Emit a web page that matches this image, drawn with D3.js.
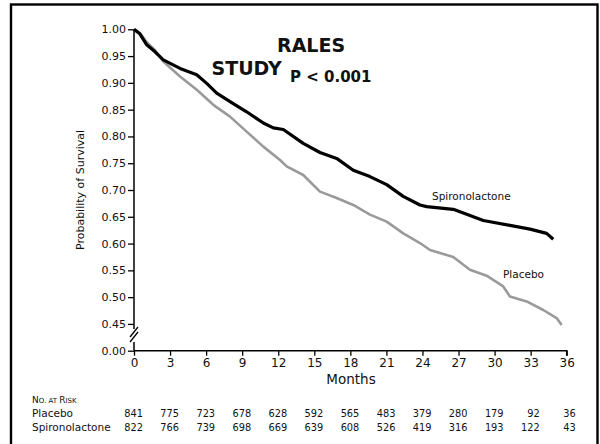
<!DOCTYPE html>
<html>
<head>
<meta charset="utf-8">
<script src="https://cdn.jsdelivr.net/npm/d3@7"></script>
<style>
  body { margin: 0; background: #fff; }
  svg { display: block; }
  text { font-family: "DejaVu Sans", sans-serif; fill: #111; }
</style>
</head>
<body>
<div id="chart"></div>
<script>
// survival curves (months, probability)
var spiroMonths = [0, 0.5, 1.06, 1.75, 2.44, 3.83, 5.22, 6.05, 6.88, 7.99, 9.37, 10.76, 11.59, 12.42,
  14.08, 15.47, 16.86, 18.24, 19.63, 21.02, 22.4, 23.79, 24.35, 26.56, 27.4, 29.06, 31.28, 32.95, 34.33, 34.88];
var spiroSurv = [1.0, 0.991, 0.971, 0.958, 0.943, 0.927, 0.915, 0.899, 0.881, 0.865, 0.846, 0.825, 0.816, 0.813,
  0.787, 0.77, 0.759, 0.737, 0.725, 0.71, 0.688, 0.672, 0.669, 0.664, 0.657, 0.643, 0.634, 0.627, 0.619, 0.608];

var placeboMonths = [0, 0.5, 1.06, 1.75, 2.44, 3.83, 5.22, 6.6, 7.99, 9.37, 10.76, 12.15, 12.7, 14.08,
  15.47, 16.86, 18.24, 19.63, 21.02, 22.4, 23.79, 24.63, 26.56, 27.95, 29.34, 30.72, 31.28, 32.67, 34.05, 35.16, 35.58];
var placeboSurv = [1.0, 0.993, 0.976, 0.961, 0.94, 0.912, 0.887, 0.859, 0.837, 0.809, 0.781, 0.756, 0.744, 0.728,
  0.697, 0.685, 0.672, 0.654, 0.641, 0.619, 0.601, 0.588, 0.575, 0.551, 0.54, 0.52, 0.501, 0.492, 0.476, 0.461, 0.448];

var xTicks = [0, 3, 6, 9, 12, 15, 18, 21, 24, 27, 30, 33, 36];
var yTicks = [0.40, 0.45, 0.50, 0.55, 0.60, 0.65, 0.70, 0.75, 0.80, 0.85, 0.90, 0.95, 1.00];
var riskGroups = ["Placebo", "Spironolactone"];
var riskPlacebo = [841, 775, 723, 678, 628, 592, 565, 483, 379, 280, 179, 92, 36];
var riskSpiro = [822, 766, 739, 698, 669, 639, 608, 526, 419, 316, 193, 122, 43];

var width = 600, height = 444;
var svg = d3.select("#chart").append("svg")
  .attr("width", width)
  .attr("height", height);

// frame
svg.append("rect")
  .attr("x", 11).attr("y", 4.5)
  .attr("width", 586.5).attr("height", 450)
  .attr("fill", "none")
  .attr("stroke", "#000")
  .attr("stroke-width", 2.4);

var x = d3.scaleLinear().domain([0, 36]).range([134, 566.7]);
// axis is broken: the bottom slot (0.40) is labelled 0.00
var y = d3.scaleLinear().domain([0.40, 1.0]).range([350.7, 29.3]);

var xAxis = svg.append("g")
  .attr("transform", "translate(0," + y(0.40) + ")")
  .call(d3.axisBottom(x).tickValues(xTicks).tickSize(5).tickPadding(3).tickFormat(d3.format("d")));
xAxis.selectAll("text").attr("font-size", 12).attr("font-family", "DejaVu Sans").attr("fill", "#111");

var yAxis = svg.append("g")
  .attr("transform", "translate(" + x(0) + ",0)")
  .call(d3.axisLeft(y).tickValues(yTicks).tickSize(6).tickPadding(2)
    .tickFormat(function(d) { return d < 0.42 ? "0.00" : d3.format(".2f")(d); }));
yAxis.selectAll("text").attr("font-size", 11).attr("font-family", "DejaVu Sans").attr("fill", "#111");

[xAxis, yAxis].forEach(function(g) {
  g.select(".domain").attr("stroke-width", 1.5).attr("stroke", "#000");
  g.selectAll(".tick line").attr("stroke-width", 1.3).attr("stroke", "#000");
});
xAxis.select(".domain").attr("d", "M" + x(0) + ",0H" + x(36) + "V5");
yAxis.select(".domain").attr("d", "M0," + y(1.0) + "V" + y(0.40));

// axis break
svg.append("rect")
  .attr("x", x(0) - 3).attr("y", 329)
  .attr("width", 6).attr("height", 13)
  .attr("fill", "#fff");
[[331, 337], [336, 342]].forEach(function(p) {
  svg.append("line")
    .attr("x1", x(0) - 4).attr("y1", p[1])
    .attr("x2", x(0) + 4).attr("y2", p[0] - 4)
    .attr("stroke", "#000").attr("stroke-width", 1.3);
});

var line = d3.line()
  .x(function(d) { return x(d[0]); })
  .y(function(d) { return y(d[1]); });

svg.append("path")
  .datum(d3.zip(placeboMonths, placeboSurv))
  .attr("d", line)
  .attr("fill", "none")
  .attr("stroke", "#9a9a9a")
  .attr("stroke-width", 2.6)
  .attr("stroke-linejoin", "round");

svg.append("path")
  .datum(d3.zip(spiroMonths, spiroSurv))
  .attr("d", line)
  .attr("fill", "none")
  .attr("stroke", "#000")
  .attr("stroke-width", 3.2)
  .attr("stroke-linejoin", "round");

// labels
svg.append("text")
  .attr("transform", "translate(84,190) rotate(-90)")
  .attr("text-anchor", "middle")
  .attr("font-size", 11)
  .text("Probability of Survival");

svg.append("text")
  .attr("x", 351).attr("y", 383.5)
  .attr("text-anchor", "middle")
  .attr("font-size", 13.5)
  .text("Months");

svg.append("text")
  .attr("x", 432).attr("y", 200)
  .attr("font-size", 10.5)
  .text("Spironolactone");

svg.append("text")
  .attr("x", 503).attr("y", 277.5)
  .attr("font-size", 10.5)
  .text("Placebo");

var bold = { "font-family": "'Liberation Sans', Arial, sans-serif", "font-weight": "bold" };
svg.append("text")
  .attr("x", 277).attr("y", 51.5)
  .attr("font-size", 19).attr("font-family", bold["font-family"]).attr("font-weight", "bold")
  .text("RALES");
svg.append("text")
  .attr("x", 211.5).attr("y", 74.5)
  .attr("font-size", 19).attr("font-family", bold["font-family"]).attr("font-weight", "bold")
  .text("STUDY");
svg.append("text")
  .attr("x", 290).attr("y", 81.5)
  .attr("font-size", 15).attr("font-family", bold["font-family"]).attr("font-weight", "bold")
  .text("P < 0.001");

// number at risk
var head = svg.append("text").attr("x", 32).attr("y", 402.5).attr("font-size", 9);
head.append("tspan").text("N");
head.append("tspan").attr("font-size", 7).text("O. AT ");
head.append("tspan").text("R");
head.append("tspan").attr("font-size", 7).text("ISK");

var rowY = [417.3, 430.7];
[riskPlacebo, riskSpiro].forEach(function(row, i) {
  svg.append("text")
    .attr("x", 32).attr("y", rowY[i])
    .attr("font-size", 10.5)
    .text(riskGroups[i]);
  svg.selectAll(null)
    .data(row)
    .enter().append("text")
    .attr("x", function(d, j) { return x(xTicks[j]) + 9; })
    .attr("y", rowY[i])
    .attr("text-anchor", "end")
    .attr("font-size", 9.8)
    .text(function(d) { return d; });
});
</script>
</body>
</html>
